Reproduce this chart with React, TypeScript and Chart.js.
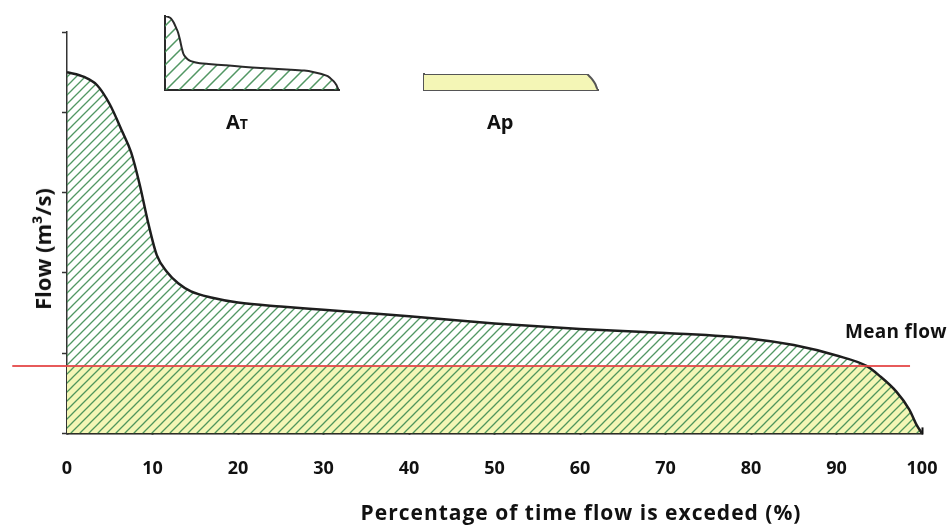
import React, { useEffect, useRef } from "react";
import { Chart, registerables } from "chart.js";

Chart.register(...registerables);

// ---- data ----
const pct = [0, 2, 3.5, 5, 6.5, 7.5, 8.5, 9.5, 10.5, 11.7, 13, 14.5, 17, 20, 25, 30, 35, 40, 50, 60, 70, 80, 85, 90, 93.5, 95, 97, 98.5, 99.4, 100];
const flow = [4.5, 4.44, 4.34, 4.1, 3.75, 3.5, 3.1, 2.62, 2.22, 2.01, 1.87, 1.77, 1.69, 1.63, 1.58, 1.54, 1.5, 1.46, 1.37, 1.3, 1.25, 1.18, 1.1, 0.97, 0.84, 0.72, 0.52, 0.3, 0.1, 0];
const meanFlow = 0.84;
const meanLineX = [-6.4, 98.6];
const xTicks = [0, 10, 20, 30, 40, 50, 60, 70, 80, 90, 100];
const yTicks = [0, 1, 2, 3, 4, 5];
const xTitle = "Percentage of time flow is exceded (%)";
const yTitle = "Flow (m³/s)";
const meanLabel = "Mean flow";

const FONT = "'Open Sans', 'Liberation Sans', sans-serif";
const HATCH = "rgba(62,140,82,0.9)";
const YELLOW = "#f4f6b6";

function makeHatch(s: number, color: string, w: number): CanvasPattern | string {
  const c = document.createElement("canvas");
  c.width = s;
  c.height = s;
  const g = c.getContext("2d");
  if (!g) return color;
  g.strokeStyle = color;
  g.lineWidth = w;
  g.beginPath();
  g.moveTo(0, s);
  g.lineTo(s, 0);
  g.moveTo(-2, 2);
  g.lineTo(2, -2);
  g.moveTo(s - 2, s + 2);
  g.lineTo(s + 2, s - 2);
  g.stroke();
  return g.createPattern(c, "repeat") || color;
}

const curvePts = () => pct.map((x, i) => ({ x, y: flow[i] }));
const yellowPts = () => pct.map((x, i) => ({ x, y: Math.min(flow[i], meanFlow) }));

function MainChart() {
  const ref = useRef<HTMLCanvasElement>(null);
  useEffect(() => {
    if (!ref.current) return;
    const hatch = makeHatch(9, HATCH, 1.3);
    const chart = new Chart(ref.current, {
      type: "line",
      data: {
        datasets: [
          {
            data: yellowPts(),
            fill: "origin",
            backgroundColor: YELLOW,
            borderWidth: 0,
            pointRadius: 0,
            cubicInterpolationMode: "monotone",
            order: 3,
          },
          {
            data: curvePts(),
            fill: "origin",
            backgroundColor: hatch as any,
            borderColor: "#1e1e1e",
            borderWidth: 2.5,
            pointRadius: 0,
            cubicInterpolationMode: "monotone",
            order: 2,
          },
          {
            data: meanLineX.map((x) => ({ x, y: meanFlow })),
            fill: false,
            borderColor: "rgba(228,72,72,0.9)",
            borderWidth: 2,
            pointRadius: 0,
            clip: false as any,
            order: 1,
          },
        ],
      },
      options: {
        responsive: false,
        animation: false,
        events: [],
        layout: { padding: { left: 62, right: 28, top: 32, bottom: 15 } },
        plugins: { legend: { display: false }, tooltip: { enabled: false } },
        scales: {
          x: {
            type: "linear",
            min: 0,
            max: 100,
            afterBuildTicks: (s: any) => {
              s.ticks = xTicks.map((value) => ({ value }));
            },
            afterFit: (s: any) => {
              s.paddingLeft = 0;
              s.paddingRight = 0;
            },
            grid: { display: true, drawOnChartArea: false, drawTicks: true, tickLength: -6, tickColor: "#111", tickWidth: 2 },
            border: { display: true, color: "#111", width: 2.5 },
            ticks: { color: "#111", padding: 31, font: { family: FONT, size: 18, weight: "bold" }, maxRotation: 0 },
          },
          y: {
            type: "linear",
            min: 0,
            max: 5,
            afterBuildTicks: (s: any) => {
              s.ticks = yTicks.map((value) => ({ value }));
            },
            grid: { display: true, drawOnChartArea: false, drawTicks: true, tickLength: 5, tickColor: "#333", tickWidth: 1.5 },
            border: { display: true, color: "#333", width: 1.5 },
            ticks: { display: false },
          },
        },
      },
    });
    return () => chart.destroy();
  }, []);
  return <canvas ref={ref} width={950} height={526} style={{ position: "absolute", left: 0, top: 0 }} />;
}

function InsetChart(props: { kind: "T" | "P"; left: number; top: number; w: number; h: number }) {
  const ref = useRef<HTMLCanvasElement>(null);
  useEffect(() => {
    if (!ref.current) return;
    const isT = props.kind === "T";
    const bg = isT ? makeHatch(13, HATCH, 1.5) : YELLOW;
    const edge = isT ? "#2a2a2a" : "#555";
    const chart = new Chart(ref.current, {
      type: "line",
      data: {
        datasets: [
          {
            data: isT ? curvePts() : yellowPts(),
            fill: "origin",
            backgroundColor: bg as any,
            borderColor: edge,
            borderWidth: 2,
            pointRadius: 0,
            cubicInterpolationMode: "monotone",
          },
        ],
      },
      options: {
        responsive: false,
        animation: false,
        events: [],
        layout: { padding: { left: 1, right: 2, top: 2, bottom: 1 } },
        plugins: { legend: { display: false }, tooltip: { enabled: false } },
        scales: {
          x: {
            type: "linear",
            min: 0,
            max: 100,
            grid: { display: false, drawTicks: false },
            ticks: { display: false },
            border: { display: true, color: edge, width: 2 },
          },
          y: {
            type: "linear",
            min: 0,
            max: isT ? Math.max(...flow) : meanFlow,
            grid: { display: false, drawTicks: false },
            ticks: { display: false },
            border: { display: true, color: edge, width: 2 },
          },
        },
      },
    });
    return () => chart.destroy();
  }, []);
  return (
    <canvas
      ref={ref}
      width={props.w}
      height={props.h}
      style={{ position: "absolute", left: props.left, top: props.top }}
    />
  );
}

const txt: React.CSSProperties = {
  position: "absolute",
  fontFamily: FONT,
  fontWeight: 700,
  color: "#111",
  whiteSpace: "nowrap",
  lineHeight: 1,
};

export default function App() {
  return (
    <div style={{ position: "absolute", left: 0, top: 0, width: 950, height: 526, background: "#fff", overflow: "hidden" }}>
      <MainChart />
      <InsetChart kind="T" left={164} top={14} w={177} h={77} />
      <InsetChart kind="P" left={423} top={72} w={177} h={19} />
      <div style={{ ...txt, left: 226, top: 112, fontSize: 20 }}>
        A<span style={{ fontSize: 14 }}>T</span>
      </div>
      <div style={{ ...txt, left: 487, top: 112, fontSize: 20 }}>Ap</div>
      <div style={{ ...txt, left: 845, top: 322, fontSize: 19, letterSpacing: 0.3 }}>{meanLabel}</div>
      <div style={{ ...txt, left: 581, top: 512, fontSize: 21, letterSpacing: 1, transform: "translate(-50%, -50%)" }}>
        {xTitle}
      </div>
      <div
        style={{ ...txt, left: 42, top: 249, fontSize: 22, transform: "translate(-50%, -50%) rotate(-90deg)" }}
      >
        {yTitle}
      </div>
    </div>
  );
}
